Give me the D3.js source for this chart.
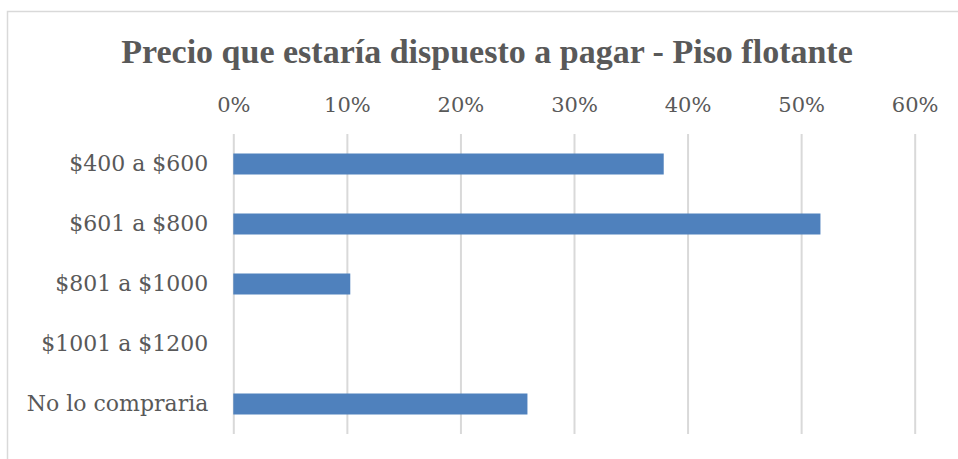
<!DOCTYPE html>
<html lang="es">
<head>
<meta charset="utf-8">
<title>Precio que estaría dispuesto a pagar - Piso flotante</title>
<script src="https://cdn.jsdelivr.net/npm/d3@7"></script>
<style>
  body { margin: 0; background: #fff; }
  .grid line { stroke: #d9d9d9; stroke-width: 2; }
  .grid path { display: none; }
  .axis text { font-family: "DejaVu Serif", serif; fill: #595959; }
  .axis path, .axis line { display: none; }
</style>
</head>
<body>
<script>
// chart data
var categories = ["$400 a $600", "$601 a $800", "$801 a $1000", "$1001 a $1200", "No lo compraria"];
var values = [0.379, 0.517, 0.103, 0, 0.259];
var tickValues = [0, 0.1, 0.2, 0.3, 0.4, 0.5, 0.6];
var title = "Precio que estaría dispuesto a pagar - Piso flotante";

var w = 958, h = 459;
var plotLeft = 233.3, plotRight = 914.7, plotTop = 134, plotBottom = 434;

var svg = d3.select("body").append("svg")
  .attr("width", w)
  .attr("height", h);

// chart border
svg.append("rect")
  .attr("x", 7.5).attr("y", 11.5)
  .attr("width", w).attr("height", h)
  .attr("fill", "none")
  .attr("stroke", "#d9d9d9")
  .attr("stroke-width", 1.5);

var x = d3.scaleLinear().domain([0, 0.6]).range([plotLeft, plotRight]);
var y = d3.scaleBand().domain(categories).range([plotTop, plotBottom])
  .paddingInner(0.65).paddingOuter(0.325);

// vertical gridlines
svg.append("g")
  .attr("class", "grid")
  .attr("transform", "translate(0," + plotBottom + ")")
  .call(d3.axisBottom(x).tickValues(tickValues).tickSize(-(plotBottom - plotTop)).tickFormat(""));

// top axis labels
svg.append("g")
  .attr("class", "axis")
  .attr("transform", "translate(0,118)")
  .call(d3.axisTop(x).tickValues(tickValues).tickSize(0).tickPadding(6).tickFormat(d3.format(".0%")))
  .selectAll("text").style("font-size", "21px");

// bars
svg.append("g")
  .selectAll("rect")
  .data(values)
  .enter()
  .append("rect")
  .attr("x", x(0))
  .attr("y", function(d, i) { return y(categories[i]); })
  .attr("width", function(d) { return x(d) - x(0); })
  .attr("height", y.bandwidth())
  .attr("fill", "#4f81bd");

// category labels
svg.append("g")
  .attr("class", "axis")
  .attr("transform", "translate(" + (plotLeft - 25) + ",0)")
  .call(d3.axisLeft(y).tickSize(0).tickPadding(0))
  .selectAll("text").style("font-size", "22px");

// title
svg.append("text")
  .attr("x", 487)
  .attr("y", 63)
  .attr("text-anchor", "middle")
  .style("font-family", "'Liberation Serif', serif")
  .style("font-weight", "bold")
  .style("font-size", "34px")
  .style("fill", "#595959")
  .text(title);
</script>
</body>
</html>
